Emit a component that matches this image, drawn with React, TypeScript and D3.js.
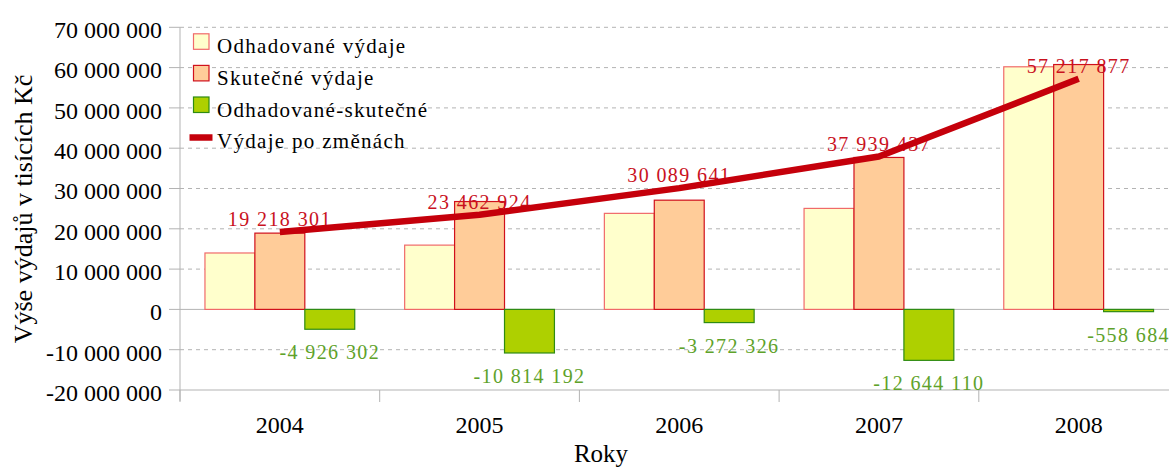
import React from "react";
import * as d3 from "d3";

const years = ["2004", "2005", "2006", "2007", "2008"];
const odhadovane = [14000000, 15950000, 23830000, 25060000, 60200000];
const skutecne = [18926302, 26764192, 27102326, 37704110, 60758684];
const rozdil = [-4926302, -10814192, -3272326, -12644110, -558684];
const poZmenach = [19218301, 23462924, 30089641, 37939437, 57217877];
const yTicks = [-20000000, -10000000, 0, 10000000, 20000000, 30000000, 40000000, 50000000, 60000000, 70000000];
const seriesNames = ["Odhadované výdaje", "Skutečné výdaje", "Odhadované-skutečné"];
const lineName = "Výdaje po změnách";

const W = 1169;
const H = 469;
const FONT = "'Liberation Serif', 'Times New Roman', serif";

const locale = d3.formatLocale({ decimal: ",", thousands: " ", grouping: [3], currency: ["", ""], minus: "-" });
const fmt = locale.format(",d");

const fills = ["#ffffcc", "#ffcc99", "#aed000"];
const strokes = ["#f06a6a", "#d0101c", "#2e8b12"];
const LINE_COLOR = "#c5000b";
const RED_TEXT = "#c9111e";
const GREEN_TEXT = "#5ea22a";

export default function App() {
  const y = d3.scaleLinear().domain([-20000000, 70000000]).range([390, 27.3]);
  const x = d3.scaleBand<string>().domain(years).range([180, 1178.5]).paddingInner(0).paddingOuter(0);
  const inner = d3.scaleBand<number>().domain([0, 1, 2]).range([0, x.bandwidth()]).paddingInner(0).paddingOuter(0.5);
  const series = [odhadovane, skutecne, rozdil];
  const center = (i: number) => (x(years[i]) as number) + x.bandwidth() / 2;

  const line = d3
    .line<number>()
    .x((_, i) => center(i))
    .y((d) => y(d));

  const xRight = W;
  const boundaries = years.map((yr) => x(yr) as number);

  return (
    <svg width={W} height={H} style={{ position: "absolute", left: 0, top: 0, background: "#fff" }} fontFamily={FONT}>
      {/* grid */}
      {yTicks.map((t) => (
        <line
          key={"g" + t}
          x1={180}
          x2={xRight}
          y1={y(t)}
          y2={y(t)}
          stroke="#b3b3b3"
          strokeWidth={1}
          strokeDasharray={t === 0 || t === -20000000 ? undefined : "4,4"}
        />
      ))}
      {/* y axis */}
      <line x1={180} x2={180} y1={y(70000000)} y2={401} stroke="#b3b3b3" strokeWidth={1} />
      {yTicks.map((t) => (
        <g key={"t" + t}>
          <line x1={169} x2={180} y1={y(t)} y2={y(t)} stroke="#b3b3b3" />
          <text x={162} y={y(t)} dy="0.45em" textAnchor="end" fontSize={24} fill="#000">
            {fmt(t)}
          </text>
        </g>
      ))}
      {/* x axis ticks */}
      {boundaries.map((b) => (
        <line key={"xb" + b} x1={b} x2={b} y1={390} y2={402} stroke="#b3b3b3" />
      ))}
      {years.map((yr, i) => (
        <text key={"xl" + yr} x={center(i)} y={433} textAnchor="middle" fontSize={24} fill="#000">
          {yr}
        </text>
      ))}
      <text x={601} y={462} textAnchor="middle" fontSize={25} fill="#000">
        Roky
      </text>
      <text
        transform={`translate(32,209) rotate(-90)`}
        textAnchor="middle"
        fontSize={26}
        fill="#000"
      >
        Výše výdajů v tisících Kč
      </text>

      {/* bars */}
      {series.map((vals, s) =>
        vals.map((v, i) => {
          const bx = (x(years[i]) as number) + (inner(s) as number);
          const y0 = y(0);
          const yv = y(v);
          return (
            <rect
              key={`b${s}-${i}`}
              x={bx}
              y={Math.min(y0, yv)}
              width={inner.bandwidth()}
              height={Math.abs(yv - y0)}
              fill={fills[s]}
              stroke={strokes[s]}
              strokeWidth={1.2}
            />
          );
        })
      )}

      {/* negative labels */}
      {rozdil.map((v, i) => (
        <text
          key={"nl" + i}
          x={(x(years[i]) as number) + (inner(2) as number) + inner.bandwidth() / 2}
          y={y(v) + 30}
          textAnchor="middle"
          fontSize={20}
          letterSpacing={1.4}
          fill={GREEN_TEXT}
        >
          {fmt(v)}
        </text>
      ))}

      {/* line labels */}
      {poZmenach.map((v, i) => (
        <text
          key={"ll" + i}
          x={center(i)}
          y={y(v) - 6}
          textAnchor="middle"
          fontSize={20}
          letterSpacing={1.4}
          fill={RED_TEXT}
        >
          {fmt(v)}
        </text>
      ))}

      {/* line */}
      <path d={line(poZmenach) || ""} fill="none" stroke={LINE_COLOR} strokeWidth={6.5} strokeLinejoin="round" />

      {/* legend */}
      {seriesNames.map((n, s) => {
        const base = 53.3 + s * 31.6;
        return (
          <g key={"lg" + s}>
            <rect x={193.5} y={base - 19.5} width={15.5} height={15.5} fill={fills[s]} stroke={strokes[s]} strokeWidth={1.2} />
            <text x={217} y={base} fontSize={21} letterSpacing={1.3} fill="#000">
              {n}
            </text>
          </g>
        );
      })}
      <line x1={189.5} x2={212.5} y1={137.5} y2={137.5} stroke={LINE_COLOR} strokeWidth={6.5} />
      <text x={217} y={148} fontSize={21} letterSpacing={1.3} fill="#000">
        {lineName}
      </text>
    </svg>
  );
}
